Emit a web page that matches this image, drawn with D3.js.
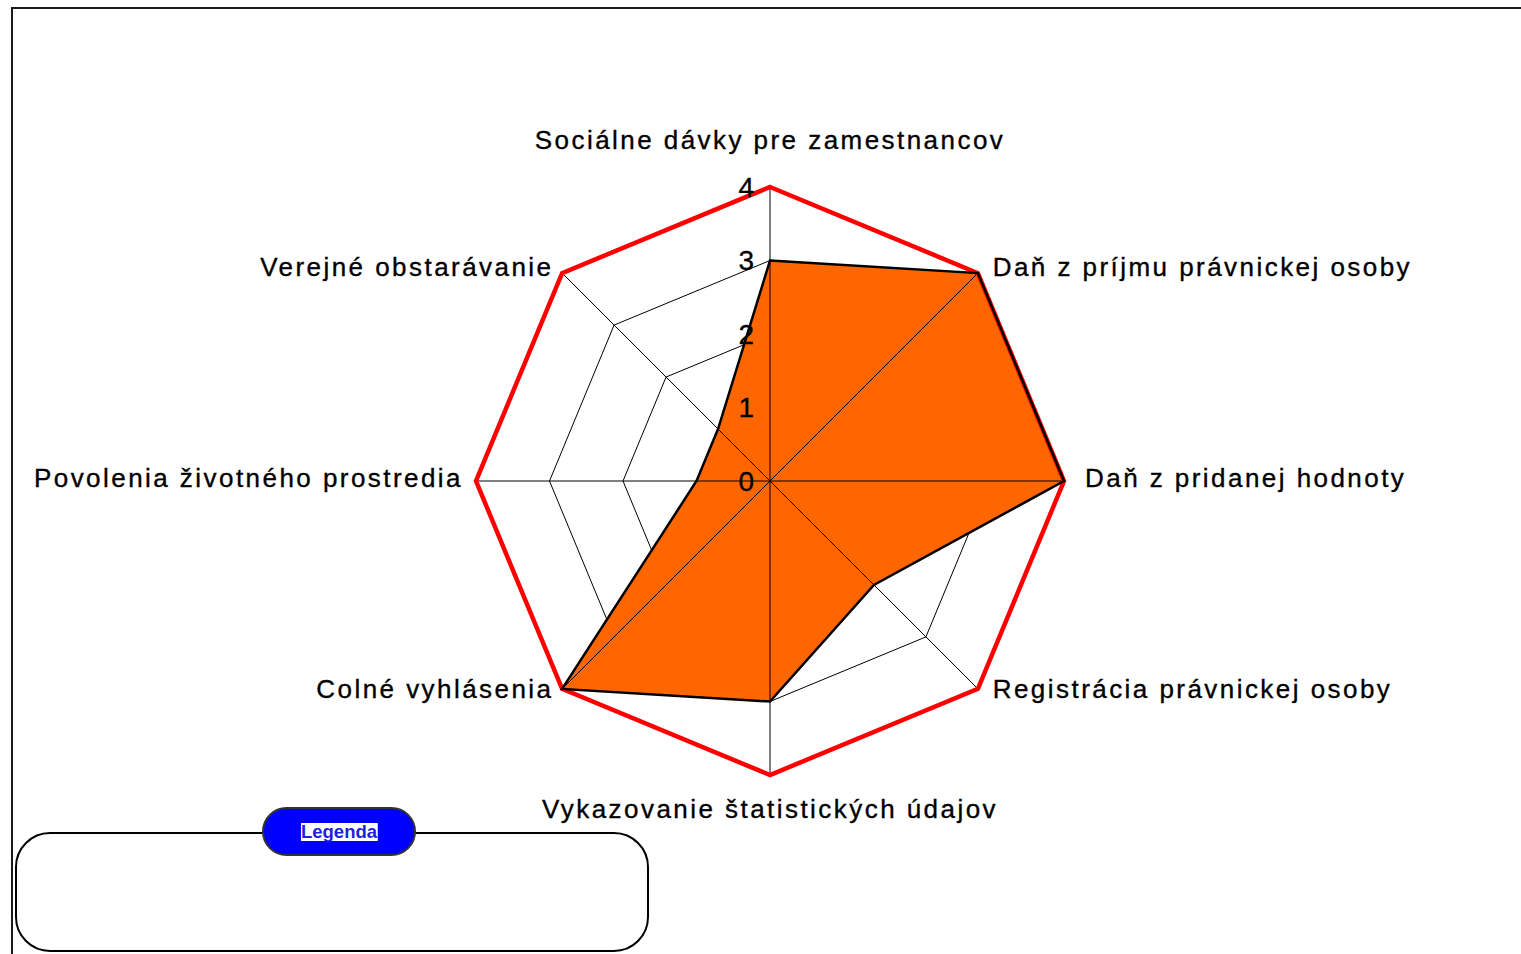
<!DOCTYPE html>
<html>
<head>
<meta charset="utf-8">
<script src="https://cdn.jsdelivr.net/npm/d3@7"></script>
<style>
  html, body { margin: 0; padding: 0; background: #fff; }
  svg { display: block; }
  text { font-family: "Liberation Sans", Arial, sans-serif; }
</style>
</head>
<body>
<svg id="chart" width="1521" height="954"></svg>
<script>
const categories = [
  "Sociálne dávky pre zamestnancov",
  "Daň z príjmu právnickej osoby",
  "Daň z pridanej hodnoty",
  "Registrácia právnickej osoby",
  "Vykazovanie štatistických údajov",
  "Colné vyhlásenia",
  "Povolenia životného prostredia",
  "Verejné obstarávanie"
];
const seriesValues = [3, 4, 4, 2, 3, 4, 1, 1];
const maxValues = [4, 4, 4, 4, 4, 4, 4, 4];
const tickValues = [0, 1, 2, 3, 4];
const tickLabels = ["0", "1", "2", "3", "4"];
const legendTitle = "Legenda";

const svg = d3.select("#chart");
const cx = 770, cy = 481;
const r = d3.scaleLinear().domain([0, 4]).range([0, 294]);
const n = categories.length;
const ang = d3.scaleLinear().domain([0, n]).range([0, 2 * Math.PI]);
const pt = (i, v) => [cx + Math.sin(ang(i)) * r(v), cy - Math.cos(ang(i)) * r(v)];

// outer frame
svg.append("path")
  .attr("d", "M12,954 L12,8 L1521,8")
  .attr("fill", "none").attr("stroke", "#1a1a1a").attr("stroke-width", 2);

// rings (beneath fill)
svg.append("g").selectAll("polygon").data(tickValues.filter(t => t > 0)).join("polygon")
  .attr("points", t => d3.range(n).map(i => pt(i, t).join(",")).join(" "))
  .attr("fill", "none").attr("stroke", "#000").attr("stroke-width", 1);

// data fill
svg.append("polygon")
  .attr("points", seriesValues.map((v, i) => pt(i, v).join(",")).join(" "))
  .attr("fill", "#ff6600").attr("stroke", "none");

// spokes
svg.append("g").selectAll("line").data(d3.range(n)).join("line")
  .attr("x1", cx).attr("y1", cy)
  .attr("x2", i => pt(i, 4)[0]).attr("y2", i => pt(i, 4)[1])
  .attr("stroke", "#000").attr("stroke-width", 1);

// max series (red)
svg.append("polygon")
  .attr("points", maxValues.map((v, i) => pt(i, v).join(",")).join(" "))
  .attr("fill", "none").attr("stroke", "#ff0000").attr("stroke-width", 4.5)
  .attr("stroke-linejoin", "miter");

// data outline
svg.append("polygon")
  .attr("points", seriesValues.map((v, i) => pt(i, v).join(",")).join(" "))
  .attr("fill", "none").attr("stroke", "#000").attr("stroke-width", 2.5)
  .attr("stroke-linejoin", "miter");

// tick labels
svg.append("g").selectAll("text").data(tickValues).join("text")
  .attr("x", cx - 16).attr("y", t => cy - r(t) + 9.5)
  .attr("text-anchor", "end").attr("font-size", 28).attr("fill", "#000")
  .attr("stroke", "#000").attr("stroke-width", 0.3)
  .text((t, i) => tickLabels[i]);

// category labels
svg.append("g").selectAll("text").data(categories).join("text")
  .each(function (c, i) {
    const a = ang(i);
    const s = Math.sin(a), co = Math.cos(a);
    const [vx, vy] = pt(i, 4);
    let x = vx, y = vy, anchor = "middle";
    if (s > 0.01) { anchor = "start"; x = vx + 21 * s; }
    else if (s < -0.01) { anchor = "end"; x = vx + 15 * s + 2; }
    if (Math.abs(co) > 0.99) y = vy + (co > 0 ? -38 : 43);
    else y = vy + 6 - co * 4.5;
    d3.select(this).attr("x", x).attr("y", y).attr("text-anchor", anchor);
  })
  .attr("font-size", 26).attr("letter-spacing", "2.45px").attr("fill", "#000")
  .attr("stroke", "#000").attr("stroke-width", 0.35)
  .text(c => c);

// legend box
const lg = svg.append("g");
lg.append("rect").attr("x", 16).attr("y", 833).attr("width", 632).attr("height", 118)
  .attr("rx", 34).attr("ry", 34).attr("fill", "#fff").attr("stroke", "#000").attr("stroke-width", 2);
lg.append("rect").attr("x", 263).attr("y", 808).attr("width", 152).attr("height", 47)
  .attr("rx", 23.5).attr("ry", 23.5).attr("fill", "#0000ff").attr("stroke", "#333").attr("stroke-width", 2);
const lt = lg.append("text").attr("x", 339).attr("y", 838).attr("text-anchor", "middle")
  .attr("font-size", 18.5).attr("font-weight", "bold").attr("fill", "#1f1fe0").text(legendTitle);
const bb = lt.node().getBBox();
lg.insert("rect", "text").attr("x", bb.x).attr("y", 823).attr("width", bb.width).attr("height", 18).attr("fill", "#fff");
</script>
</body>
</html>
